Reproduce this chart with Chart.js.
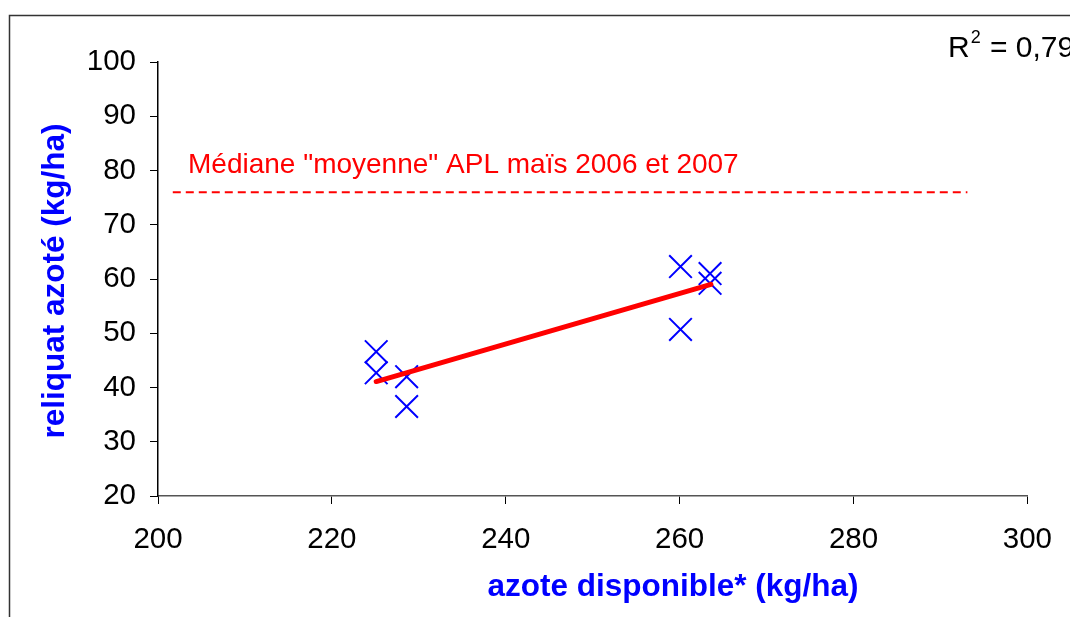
<!DOCTYPE html>
<html>
<head>
<meta charset="utf-8">
<script src="https://cdn.jsdelivr.net/npm/chart.js@4.4.1/dist/chart.umd.min.js"></script>
<style>
  html, body { margin: 0; padding: 0; background: #fff; }
  #wrap { width: 1070px; height: 617px; position: relative; }
</style>
</head>
<body>
<div id="wrap"><canvas id="c"></canvas></div>
<script>
// points
const azoteX = [225.1, 225.1, 228.6, 228.6, 260.1, 260.1, 263.5, 263.5];
const reliquatY = [46.6, 42.7, 42.0, 36.5, 62.3, 50.7, 61.0, 59.2];

// droite de tendance (extrémités)
const tendanceX = [225.1, 263.6];
const tendanceY = [41.1, 59.0];

// médiane APL
const medianeX = [201.7, 293.1];
const medianeY = [76, 76];

const xTicks = [200, 220, 240, 260, 280, 300];
const yTicks = [20, 30, 40, 50, 60, 70, 80, 90, 100];

const labelMediane = 'Médiane "moyenne" APL maïs 2006 et 2007';
const titreX = 'azote disponible* (kg/ha)';
const titreY = 'reliquat azoté (kg/ha)';

const pts = (xs, ys) => xs.map((x, i) => ({ x: x, y: ys[i] }));

const textes = {
  id: 'textes',
  beforeDraw(chart) {
    const ctx = chart.ctx;
    ctx.save();
    ctx.strokeStyle = '#333';
    ctx.lineWidth = 1.5;
    ctx.beginPath();
    ctx.moveTo(9.5, 617);
    ctx.lineTo(9.5, 15.5);
    ctx.lineTo(1070, 15.5);
    ctx.stroke();
    ctx.restore();
  },
  afterDraw(chart) {
    const ctx = chart.ctx;
    ctx.save();
    ctx.fillStyle = '#ff0000';
    ctx.font = '28px "Liberation Sans", Arial, sans-serif';
    ctx.textBaseline = 'alphabetic';
    ctx.fillText(labelMediane, 188, 173);

    ctx.fillStyle = '#000';
    ctx.font = '30px "Liberation Sans", Arial, sans-serif';
    ctx.fillText('R', 948, 57);
    let w = ctx.measureText('R').width;
    ctx.font = '18px "Liberation Sans", Arial, sans-serif';
    ctx.fillText('2', 948 + w + 1, 43);
    ctx.font = '30px "Liberation Sans", Arial, sans-serif';
    ctx.fillText(' = 0,79', 948 + w + 12, 57);

    ctx.fillStyle = '#0000ff';
    ctx.font = 'bold 31.5px "Liberation Sans", Arial, sans-serif';
    ctx.textAlign = 'center';
    ctx.textBaseline = 'middle';
    ctx.fillText(titreX, 673, 587);
    ctx.translate(55, 281);
    ctx.rotate(-Math.PI / 2);
    ctx.fillText(titreY, 0, 0);
    ctx.restore();
  }
};

new Chart(document.getElementById('c'), {
  type: 'scatter',
  data: {
    datasets: [
      {
        label: 'mediane',
        data: pts(medianeX, medianeY),
        showLine: true,
        borderColor: '#ff0000',
        borderWidth: 2,
        borderDash: [8, 5],
        pointRadius: 0
      },
      {
        label: 'tendance',
        data: pts(tendanceX, tendanceY),
        showLine: true,
        borderColor: '#ff0000',
        borderWidth: 5,
        borderCapStyle: 'round',
        pointRadius: 0
      },
      {
        label: 'reliquat',
        data: pts(azoteX, reliquatY),
        pointStyle: 'crossRot',
        pointRadius: 16,
        borderColor: '#0000ff',
        borderWidth: 2
      }
    ]
  },
  options: {
    responsive: true,
    maintainAspectRatio: false,
    animation: false,
    layout: { padding: { top: 62, right: 42, left: 0, bottom: 0 } },
    plugins: { legend: { display: false }, tooltip: { enabled: false } },
    scales: {
      x: {
        type: 'linear',
        min: 200, max: 300,
        afterFit: s => { s.height = 121; },
        afterBuildTicks: s => { s.ticks = xTicks.map(v => ({ value: v })); },
        grid: { drawOnChartArea: false, drawTicks: true, tickLength: 8, color: '#000' },
        border: { color: '#555', width: 1.5 },
        ticks: { color: '#000', padding: 18, font: { family: '"Liberation Sans", Arial', size: 29.5 } }
      },
      y: {
        type: 'linear',
        min: 20, max: 100,
        afterFit: s => { s.width = 158; },
        afterBuildTicks: s => { s.ticks = yTicks.map(v => ({ value: v })); },
        grid: { drawOnChartArea: false, drawTicks: true, tickLength: 8, color: '#000' },
        border: { color: '#000', width: 1.5 },
        ticks: { color: '#000', padding: 14, font: { family: '"Liberation Sans", Arial', size: 29.5 } }
      }
    }
  },
  plugins: [textes]
});
</script>
</body>
</html>
